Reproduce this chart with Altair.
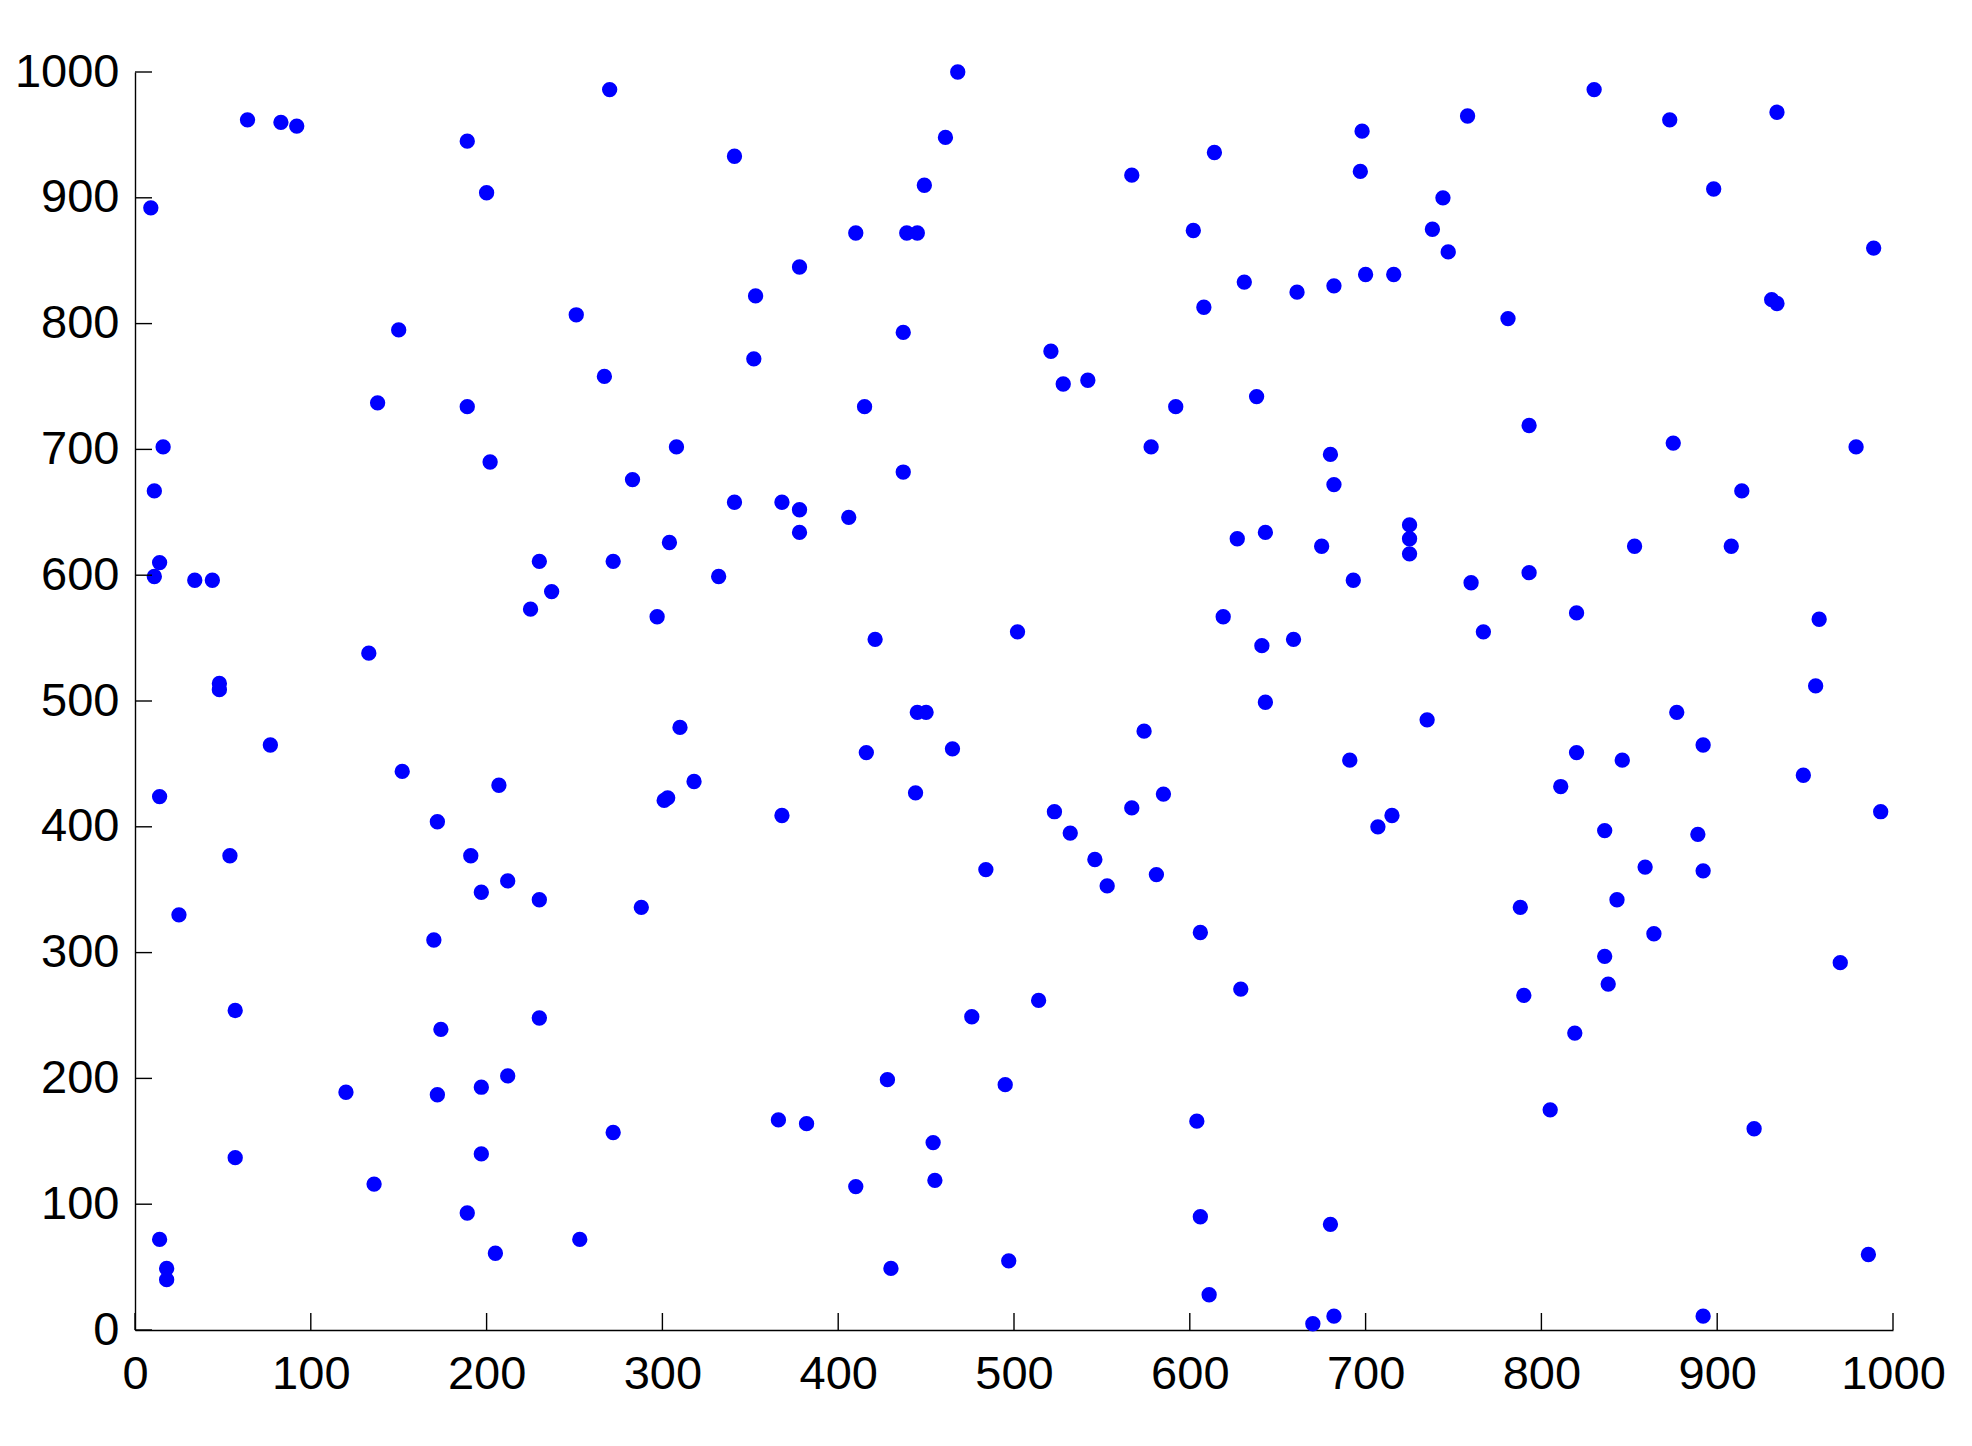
import altair as alt
import pandas as pd

x_vals = [64, 83, 92, 9, 189, 200, 270, 341, 468, 461, 449, 410, 439, 445, 378, 353, 251, 150, 352, 267,
          437, 138, 189, 415, 16, 202, 308, 283, 437, 11, 341, 368, 378, 406, 378, 14, 11, 34, 44, 230,
          272, 304, 332, 237, 225, 297, 421, 133, 48, 48, 77, 310, 445, 450, 465, 416, 152, 207, 318, 303,
          301, 444, 14, 368, 172, 54, 191, 197, 212, 230, 288, 25, 170, 484, 57, 174, 230, 476, 120, 172,
          197, 212, 272, 428, 366, 382, 454, 455, 57, 197, 136, 410, 189, 14, 253, 205, 18, 18, 430, 495,
          514, 497,
          502, 521, 528, 542, 523, 532, 546, 553, 567, 614, 602, 608, 631, 592, 578, 638, 627, 643, 619, 641,
          659, 643, 574, 585, 567, 581, 606, 629, 604, 606, 611, 661, 682, 680, 682, 675, 680, 682, 670,
          697, 698, 700, 716, 738, 744, 747, 758, 781, 830, 873, 898, 934, 931, 934, 989, 793, 875, 979,
          914, 725, 725, 725, 693, 760, 793, 853, 908, 767, 820, 958, 956, 877, 735, 691, 846, 820, 892,
          949, 811, 715, 707, 836, 889, 993, 859, 892, 843, 788, 864, 836, 970, 838, 790, 819, 805, 921,
          986, 892]

y_vals = [962, 960, 957, 892, 945, 904, 986, 933, 1000, 948, 910, 872, 872, 872, 845, 822, 807, 795, 772, 758,
          793, 737, 734, 734, 702, 690, 702, 676, 682, 667, 658, 658, 652, 646, 634, 610, 599, 596, 596, 611,
          611, 626, 599, 587, 573, 567, 549, 538, 514, 509, 465, 479, 491, 491, 462, 459, 444, 433, 436, 423,
          421, 427, 424, 409, 404, 377, 377, 348, 357, 342, 336, 330, 310, 366, 254, 239, 248, 249, 189, 187,
          193, 202, 157, 199, 167, 164, 149, 119, 137, 140, 116, 114, 93, 72, 72, 61, 49, 40, 49, 195,
          262, 55,
          555, 778, 752, 755, 412, 395, 374, 353, 918, 936, 874, 813, 833, 734, 702, 742, 629, 634, 567, 544,
          549, 499, 476, 426, 415, 362, 316, 271, 166, 90, 28, 825, 830, 696, 672, 623, 84, 11, 5,
          921, 953, 839, 839, 875, 900, 857, 965, 804, 986, 962, 907, 968, 819, 816, 860, 719, 705, 702,
          667, 640, 629, 617, 596, 594, 602, 623, 623, 555, 570, 565, 512, 491, 485, 453, 453, 459, 465,
          441, 432, 409, 400, 397, 394, 412, 368, 365, 342, 336, 315, 297, 292, 275, 266, 236, 175, 160,
          60, 11]

tick_values = [0, 100, 200, 300, 400, 500, 600, 700, 800, 900, 1000]

W = 1758
H = 1258
TICK = 17

pts = pd.DataFrame({"x": x_vals, "y": y_vals})
ticks = pd.DataFrame({"t": tick_values})

xscale = alt.Scale(domain=[0, 1000], nice=False, zero=False)
yscale = alt.Scale(domain=[0, 1000], nice=False, zero=False)

axis_common = dict(
    grid=False, ticks=False, domainColor="black", domainWidth=1.4,
    labelFont="Liberation Sans", labelFontSize=47, labelColor="black",
    values=tick_values, title=None, labelOverlap=False, labelFlush=False,
    format="d",
)
xaxis = alt.Axis(labelPadding=21, **axis_common)
yaxis = alt.Axis(labelPadding=16, **axis_common)

points = alt.Chart(pts).mark_circle(size=235, color="#0000ff", opacity=1).encode(
    x=alt.X("x:Q", scale=xscale, axis=xaxis),
    y=alt.Y("y:Q", scale=yscale, axis=yaxis),
)

xticks = alt.Chart(ticks).mark_rule(color="black", strokeWidth=1.4).encode(
    x=alt.X("t:Q", scale=xscale, axis=xaxis),
    y=alt.value(H),
    y2=alt.value(H - TICK),
)

yticks = alt.Chart(ticks).mark_rule(color="black", strokeWidth=1.4).encode(
    y=alt.Y("t:Q", scale=yscale, axis=yaxis),
    x=alt.value(0),
    x2=alt.value(TICK),
)

chart = alt.layer(points, xticks, yticks).properties(
    width=W, height=H,
    background="white",
    autosize=alt.AutoSizeParams(type="none"),
    padding={"left": 127, "top": 64, "right": 70, "bottom": 100},
).configure_view(stroke=None)

chart.save("out.html", embed_options={"renderer": "svg", "actions": False})
